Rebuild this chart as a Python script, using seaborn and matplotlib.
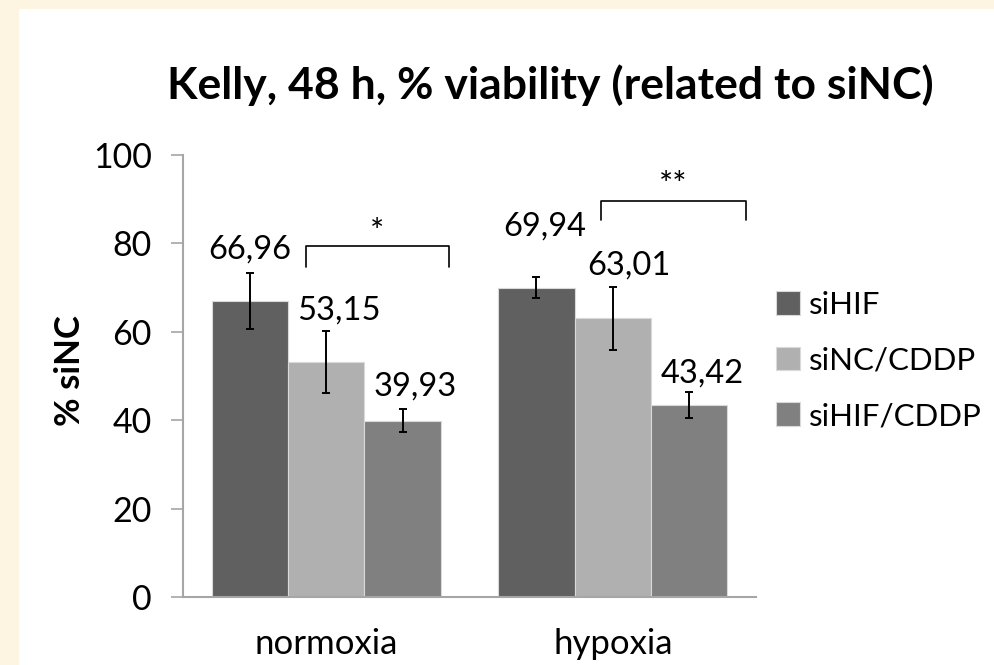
import matplotlib
matplotlib.use("Agg")
import matplotlib.pyplot as plt
import seaborn as sns
import pandas as pd
import numpy as np
from matplotlib.patches import Rectangle

# ---- data ----
conditions = ["normoxia", "hypoxia"]
treatments = ["siHIF", "siNC/CDDP", "siHIF/CDDP"]
siHIF = [66.96, 69.94]
siNC_CDDP = [53.15, 63.01]
siHIF_CDDP = [39.93, 43.42]
err_siHIF = [6.4, 2.35]
err_siNC_CDDP = [6.95, 7.1]
err_siHIF_CDDP = [2.6, 2.95]
value_labels = [["66,96", "69,94"], ["53,15", "63,01"], ["39,93", "43,42"]]
yticks = [0, 20, 40, 60, 80, 100]
sig_labels = ["*", "**"]

# ---- styling / positions ----
colors = ["#606060", "#B0B0B0", "#808080"]
# label centre positions (x offset from bar centre in category units, y in data units)
label_dx = [[0.0, 0.03], [0.045, 0.055], [0.045, 0.045]]
label_y = [[78.5, 83.9], [64.9, 74.9], [47.6, 50.6]]
# brackets: (x_left, x_right offsets from category centre, y top, y bottom, star y)
brackets = [(-0.072, 0.43, 79.4, 74.7, 82.4), (-0.04, 0.465, 89.6, 85.3, 92.9)]

series_vals = [siHIF, siNC_CDDP, siHIF_CDDP]
series_err = [err_siHIF, err_siNC_CDDP, err_siHIF_CDDP]
rows = []
for t, vals in zip(treatments, series_vals):
    for c, v in zip(conditions, vals):
        rows.append({"condition": c, "treatment": t, "value": v})
df = pd.DataFrame(rows)

sns.set_theme(style="white")
plt.rcParams["font.family"] = ["Lato", "DejaVu Sans"]
for key in ["text.color", "axes.labelcolor", "xtick.color", "ytick.color"]:
    plt.rcParams[key] = "black"

W, H = 994, 665
fig = plt.figure(figsize=(W / 100, H / 100), dpi=100)
fig.patch.set_facecolor("#FDF4E2")
fig.patches.append(Rectangle((19 / W, 0), 1, (H - 9) / H, transform=fig.transFigure,
                             facecolor="white", edgecolor="none", zorder=-10))
ax = fig.add_axes([183 / W, 1 - 597 / H, (756 - 183) / W, (597 - 155) / H])
ax.set_facecolor("white")

sns.barplot(data=df, x="condition", y="value", hue="treatment", order=conditions,
            hue_order=treatments, palette=colors, width=0.8, errorbar=None,
            edgecolor="#DADADA", linewidth=0.8, saturation=1, ax=ax, legend=True)

# error bars and labels from the bar patches
bars = [p for p in ax.patches if p.get_height() > 0]
bars = sorted(bars, key=lambda p: p.get_x())
for k, bar in enumerate(bars):
    j, i = divmod(k, len(treatments))
    xc = bar.get_x() + bar.get_width() / 2
    h = bar.get_height()
    ax.errorbar(xc, h, yerr=series_err[i][j], fmt="none", ecolor="black",
                elinewidth=1.4, capsize=3, capthick=1.4, zorder=5)
    ax.text(xc + label_dx[i][j], label_y[i][j], value_labels[i][j], ha="center",
            va="center", fontsize=23.5, color="black")

# significance brackets
for k, (xl, xr, yt, yb, ys) in enumerate(brackets):
    x0, x1 = k + xl, k + xr
    ax.plot([x0, x0, x1, x1], [yb, yt, yt, yb], color="black", lw=1.2, clip_on=False)
    ax.text((x0 + x1) / 2, ys, sig_labels[k], ha="center", va="center", fontsize=24)

ax.set_xlim(-0.5, 1.5)
ax.set_ylim(0, 100)
ax.set_yticks(yticks)
ax.set_yticklabels([str(t) for t in yticks], fontsize=24.5)
ax.tick_params(axis="y", direction="out", length=8.5, width=1.2, color="#A6A6A6",
               labelcolor="black", pad=14, left=True)
ax.tick_params(axis="x", length=0, labelsize=25, pad=22, labelcolor="black")
for s in ["top", "right"]:
    ax.spines[s].set_visible(False)
for s in ["left", "bottom"]:
    ax.spines[s].set_color("#A6A6A6")
    ax.spines[s].set_linewidth(1.5)
ax.set_xlabel("")
ax.set_ylabel("% siNC", fontsize=25, fontweight="bold", color="black")
ax.yaxis.set_label_coords((86 - 183) / 573, (597 - 371) / 442)

leg = ax.legend(loc="center left", bbox_to_anchor=(0.985, 0.535), frameon=False,
                fontsize=22.5, handlelength=0.78, handleheight=0.78, handletextpad=0.3,
                labelspacing=0.88, borderaxespad=0.5)
for t in leg.get_texts():
    t.set_color("black")

fig.text(550 / W, 1 - 85 / H, "Kelly, 48 h, % viability (related to siNC)",
         ha="center", va="center", fontsize=32, fontweight="bold", color="black")

fig.savefig("out.png", dpi=100, facecolor=fig.get_facecolor())
